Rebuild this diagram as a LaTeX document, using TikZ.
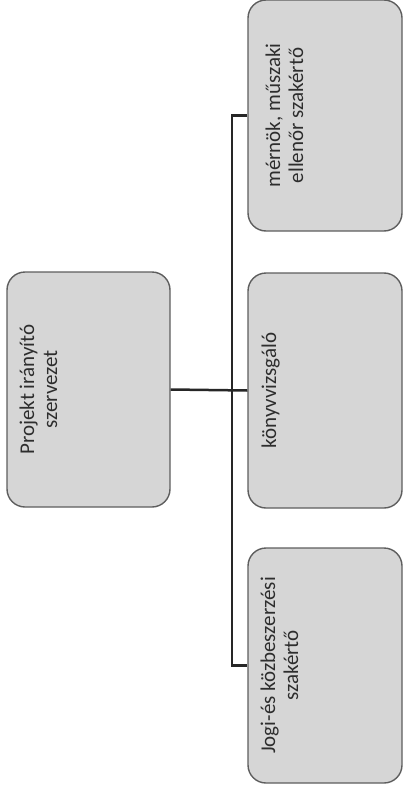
\documentclass[tikz,border=0pt]{standalone}
\usepackage{fontspec}
\setmainfont{Carlito}
\usetikzlibrary{positioning}

\definecolor{boxfill}{HTML}{D6D6D6}
\definecolor{boxline}{HTML}{5E5E5E}
\definecolor{textgray}{HTML}{2E2E2E}
\definecolor{linegray}{HTML}{262626}

\begin{document}
\begin{tikzpicture}[x = 1pt, y = -1pt,
	every node/.style = {font = \fontsize{21}{23}\selectfont},
	orgbox/.style = {draw = boxline, line width = 1.4pt, fill = boxfill, rounded corners = 18pt,
		minimum width = 154pt, minimum height = 235pt, inner sep = 0pt},
	boxtext/.style = {rotate = 90, anchor = north, align = center, inner sep = 0pt, text = textgray},
	conn/.style = {draw = linegray, line width = 2.5pt}]

	\useasboundingbox (0, 0) rectangle (404, 789);

	% Boxes
	
	\node [orgbox, minimum width = 163pt] (irany) at (88.5, 389.5) {};
	\node [orgbox, minimum height = 231pt] (mernok) at (325, 115.5) {};
	\node [orgbox] (konyv) at (325, 390.5) {};
	\node [orgbox] (jogi) at (325, 665.5) {};
	
	% Texts, read bottom to top
	
	\node [boxtext] (irany text) at ([xshift = 13pt] irany.west) {Projekt irányító\\szervezet};
	\node [boxtext] (mernok text) at ([xshift = 18pt] mernok.west) {mérnök, műszaki\\ellenőr szakértő};
	\node [boxtext] (konyv text) at ([xshift = 14pt] konyv.west) {könyvvizsgáló};
	\node [boxtext] (jogi text) at ([xshift = 13pt] jogi.west) {Jogi-és közbeszerzési\\szakértő};
	
	% Connectors
	
	\coordinate (spine) at (232, 0);
	
	\draw [conn] (irany.east) -- (konyv.west);
	\draw [conn] (mernok.west) -| (spine |- jogi.west) -- (jogi.west);
	
\end{tikzpicture}
\end{document}
